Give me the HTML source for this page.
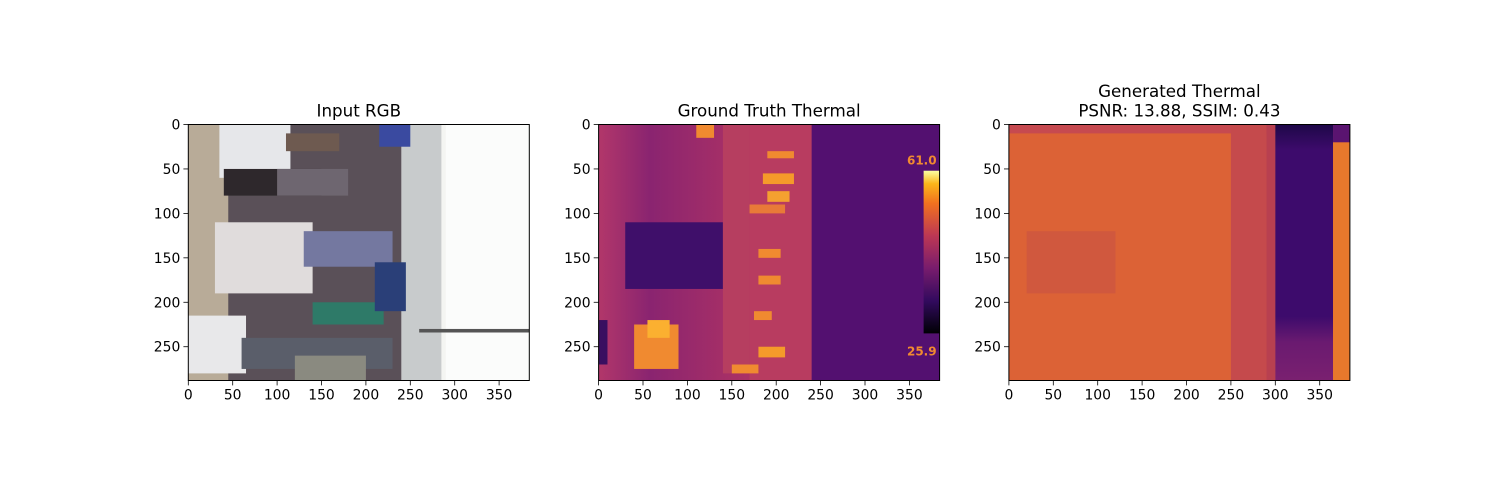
<!DOCTYPE html>
<html><head><meta charset="utf-8"><style>
body{margin:0;background:#fff;}
svg{display:block;font-family:"DejaVu Sans","Liberation Sans",sans-serif;}
</style></head><body>
<svg id="fig" width="1500" height="500" viewBox="0 0 1500 500" xmlns="http://www.w3.org/2000/svg">
<defs>
<linearGradient id="cbar" x1="0" y1="1" x2="0" y2="0">
<stop offset="0" stop-color="#000004"/><stop offset="0.2" stop-color="#320a5e"/><stop offset="0.4" stop-color="#781c6d"/><stop offset="0.6" stop-color="#bc3754"/><stop offset="0.8" stop-color="#f1711f"/><stop offset="0.92" stop-color="#fbb61a"/><stop offset="1" stop-color="#fcffa4"/>
</linearGradient>
<linearGradient id="gt" x1="0" y1="0" x2="1" y2="0">
<stop offset="0" stop-color="#b2376a"/><stop offset="0.15" stop-color="#8a2470"/><stop offset="0.4" stop-color="#a83066"/><stop offset="0.58" stop-color="#b23a60"/><stop offset="0.64" stop-color="#6a1a70"/><stop offset="0.7" stop-color="#501070"/><stop offset="1" stop-color="#4a0f6e"/>
</linearGradient>
<linearGradient id="purp" x1="0" y1="0" x2="0" y2="1">
<stop offset="0" stop-color="#1e0848"/><stop offset="0.1" stop-color="#3d0b6c"/><stop offset="0.75" stop-color="#3d0b6c"/><stop offset="0.85" stop-color="#6a1a70"/><stop offset="1" stop-color="#7a2070"/>
</linearGradient>
</defs>
<g id="panels"></g>
</svg>
<script>
const xTicks=[0,50,100,150,200,250,300,350];
const yTicks=[0,50,100,150,200,250];
const imgW=384, imgH=288;
const titles=[["Input RGB"],["Ground Truth Thermal"],["Generated Thermal","PSNR: 13.88, SSIM: 0.43"]];
const panelNames=["input-rgb","ground-truth-thermal","generated-thermal"];
const lefts=[188.3,598.6,1008.9];
const top0=124.5, W=341, H=256;
const NS="http://www.w3.org/2000/svg";
const root=document.getElementById('panels');
function el(t,a,p){const e=document.createElementNS(NS,t);for(const k in a)e.setAttribute(k,a[k]);(p||root).appendChild(e);return e;}
const rgbBlocks=[[0,0,240,288,"#5a5058"],[0,0,45,288,"#b8ab98"],[240,0,144,288,"#f4f5f2"],[290,0,94,288,"#fbfcfb"],
[240,0,45,288,"#c8cbcc"],[35,0,80,60,"#e6e7ea"],[110,10,60,20,"#6e5a50"],[30,110,110,80,"#e0dcdc"],[0,215,65,65,"#e8e8ea"],
[40,50,110,30,"#2e282c"],[100,50,80,30,"#6e6670"],[130,120,100,40,"#7478a0"],[140,200,80,25,"#2e7a68"],[60,240,170,35,"#5a5e6a"],
[210,155,35,55,"#2a3f78"],[260,230,124,4,"#555"],[215,0,35,25,"#3a4aa0"],[120,260,80,28,"#8a8a80"]];
const gtBlocks=[[30,110,110,75,"#3f0f6a"],[40,225,50,50,"#f08a30"],[55,220,25,20,"#fbb030"],[0,220,10,50,"#3a0f60"],
[140,0,30,280,"#b63e60"],[170,0,70,288,"#b83c60"],
[185,55,35,12,"#f59a2a"],[190,30,30,8,"#f08a30"],[170,90,40,10,"#e87a38"],[190,75,25,12,"#f4a030"],[180,140,25,10,"#f08a30"],
[180,170,25,10,"#f08a30"],[175,210,20,10,"#f08a30"],[180,250,30,12,"#f59a2a"],[150,270,30,10,"#f08a30"],[110,0,20,15,"#f08a30"]];
const genBlocks=[[0,0,290,288,"#dc6236"],[0,0,290,10,"#c64a50"],[250,0,40,288,"#c54a4c"],[20,120,100,70,"#d0583e"],
[290,0,10,288,"#b84050"],[300,0,65,288,"url(#purp)"],[365,20,19,268,"#e8782c"],[365,0,19,20,"#5a1470"]];
for(let i=0;i<3;i++){
  const L=lefts[i];
  const sx=v=>L+v*W/imgW, sy=v=>top0+v*H/imgH;
  const g=el('g',{});
  
  
  const img=el('g',{},g);
  
  
  const base=i==0?"#c9bfae":(i==1?"url(#gt)":"#dc6236");
  el('rect',{x:L,y:top0,width:W,height:H,fill:base},img);
  const blocks=i==0?rgbBlocks:(i==1?gtBlocks:genBlocks);
  blocks.forEach(b=>el('rect',{x:sx(b[0]),y:sy(b[1]),width:b[2]*W/imgW,height:b[3]*H/imgH,fill:b[4]},img));
  if(i==1){
    el('rect',{x:sx(240),y:top0,width:144*W/imgW,height:H,fill:"#531070"},img);
    const cb=el('rect',{x:sx(366),y:sy(52),width:18*W/imgW,height:183*H/imgH,fill:"url(#cbar)"},img);
    
    
    const t1=el('text',{x:sx(384)-3,y:sy(45),'text-anchor':'end','font-size':12,'font-weight':'bold',fill:'#f08a30'},img);t1.textContent="61.0";
    
    
    const t2=el('text',{x:sx(384)-3,y:sy(260),'text-anchor':'end','font-size':12,'font-weight':'bold',fill:'#f08a30'},img);t2.textContent="25.9";
    
    
  }
  el('rect',{x:L,y:top0,width:W,height:H,fill:'none',stroke:'#000','stroke-width':1},g);
  xTicks.forEach(v=>{
    el('line',{x1:sx(v),x2:sx(v),y1:top0+H,y2:top0+H+4.9,stroke:'#000','stroke-width':0.8},g);
    const t=el('text',{x:sx(v),y:top0+H+19,'text-anchor':'middle','font-size':13.9},g);t.textContent=v;
    
    
  });
  yTicks.forEach(v=>{
    el('line',{x1:L-4.9,x2:L,y1:sy(v),y2:sy(v),stroke:'#000','stroke-width':0.8},g);
    const t=el('text',{x:L-8,y:sy(v)+5,'text-anchor':'end','font-size':13.9},g);t.textContent=v;
    
    
  });
  const tl=titles[i];
  tl.forEach((s,k)=>{
    const t=el('text',{x:L+W/2,y:top0-8-(tl.length-1-k)*19.5,'text-anchor':'middle','font-size':16.7},g);t.textContent=s;
    
    
  });
}
</script>
</body></html>
